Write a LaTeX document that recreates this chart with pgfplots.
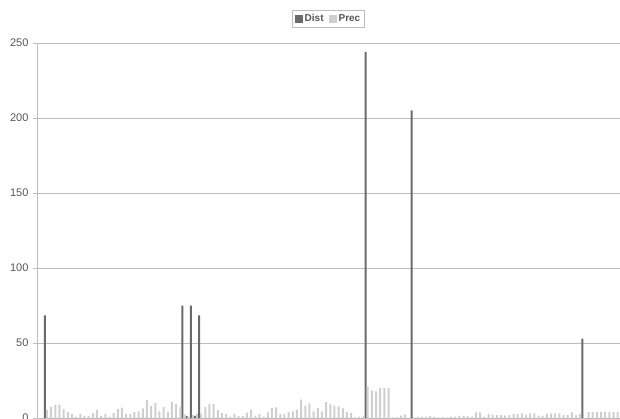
\documentclass[border=0pt]{standalone}
\usepackage{pgfplots}
\usepackage{pgfplotstable}
\usepackage{fontspec}
\setmainfont{Liberation Sans}
\pgfplotsset{compat=1.18}
\definecolor{distc}{HTML}{6A6A6A}
\definecolor{precc}{HTML}{CFCFCF}
\definecolor{gridc}{HTML}{BDBDBD}
\definecolor{txtc}{HTML}{555555}

% idx dist prec
\pgfplotstableread{
idx dist prec
0 68.5 5.5
1 0 7.5
2 0 9
3 0 9
4 0 6
5 0 4
6 0 2.7
7 0 1
8 0 2.7
9 0 1.5
10 0 1.5
11 0 3.3
12 0 5.5
13 0 1.5
14 0 2.7
15 0 1
16 0 3.3
17 0 6
18 0 7
19 0 2.7
20 0 2.7
21 0 4
22 0 4.4
23 0 6.5
24 0 12
25 0 8
26 0 10
27 0 4.4
28 0 7.5
29 0 4.2
30 0 11
31 0 9.3
32 0 7.5
33 75 2.5
34 1.5 1
35 75 2
36 1.5 3
37 68.5 3
38 0 7.3
39 0 9.3
40 0 9.3
41 0 5.3
42 0 3.3
43 0 2.7
44 0 1
45 0 2.7
46 0 1.3
47 0 1.3
48 0 3.6
49 0 5.6
50 0 1.6
51 0 2.7
52 0 0.9
53 0 3.8
54 0 6.7
55 0 7.1
56 0 2.7
57 0 2.7
58 0 4
59 0 4.4
60 0 5.6
61 0 12.2
62 0 8.2
63 0 9.8
64 0 4.4
65 0 6.7
66 0 4.2
67 0 10.7
68 0 9.1
69 0 8.2
70 0 7.8
71 0 6.5
72 0 4
73 0 3.5
74 0 0.5
75 0 1
76 0 1.5
77 244 21
78 0 18.2
79 0 17.8
80 0 20
81 0 20
82 0 20
83 0 0.4
84 0 0.4
85 0 1.6
86 0 2.4
87 0 0.3
88 205 0.5
89 0 0.9
90 0 0.9
91 0 0.9
92 0 1.3
93 0 0.9
94 0 0.5
95 0 0.7
96 0 0.5
97 0 0.9
98 0 1
99 0 1.5
100 0 1.5
101 0 1.5
102 0 1
103 0 3.8
104 0 3.8
105 0 1
106 0 2.7
107 0 2.2
108 0 2
109 0 2
110 0 1.6
111 0 2
112 0 2.7
113 0 2.7
114 0 3.1
115 0 2
116 0 3.1
117 0 3.1
118 0 1.6
119 0 1.6
120 0 2.7
121 0 3.1
122 0 3.1
123 0 3.1
124 0 2
125 0 2
126 0 3.8
127 0 2
128 0 2.7
129 53 0
130 0 4
131 0 4
132 0 4
133 0 4.2
134 0 4.2
135 0 4
136 0 4
137 0 4
}\chartdata

\begin{document}
\begin{tikzpicture}
\begin{axis}[
    scale only axis,
    width=583pt,
    height=375pt,
    ybar=0pt,
    bar width=2pt,
    xmin=-2.16, xmax=137.8,
    ymin=0, ymax=250,
    ytick={0,50,100,150,200,250},
    xtick=\empty,
    axis y line*=left,
    axis x line*=bottom,
    axis line style={draw=gridc, line width=0.6pt},
    ymajorgrids,
    major grid style={draw=gridc, line width=0.8pt},
    major tick length=4pt,
    tick style={draw=gridc, line width=0.6pt},
    tick align=outside,
    yticklabel style={font=\fontsize{11}{13}\selectfont, text=txtc, xshift=-1pt},
    /pgf/number format/assume math mode=true,
    legend style={
        at={(0.5,1)}, anchor=south, yshift=15pt,
        draw=gridc, line width=0.6pt,
        font=\fontsize{10}{12}\selectfont\bfseries,
        text=txtc,
        inner xsep=2pt, inner ysep=2.5pt,
        /tikz/every even column/.append style={column sep=3pt},
    },
    legend columns=2,
    legend image code/.code={\fill[#1] (0pt,-4pt) rectangle (8pt,4pt);},
    clip=false,
]
\addplot[fill=distc, draw=none] table[x=idx, y=dist] {\chartdata};
\addplot[fill=precc, draw=none] table[x=idx, y=prec] {\chartdata};
\legend{Dist, Prec}
\coordinate (bl) at ([xshift=-37pt]rel axis cs:0,0);
\coordinate (tr) at ([yshift=43pt]rel axis cs:1,1);
\end{axis}
\pgfresetboundingbox
\useasboundingbox (bl) rectangle (tr);
\end{tikzpicture}
\end{document}
